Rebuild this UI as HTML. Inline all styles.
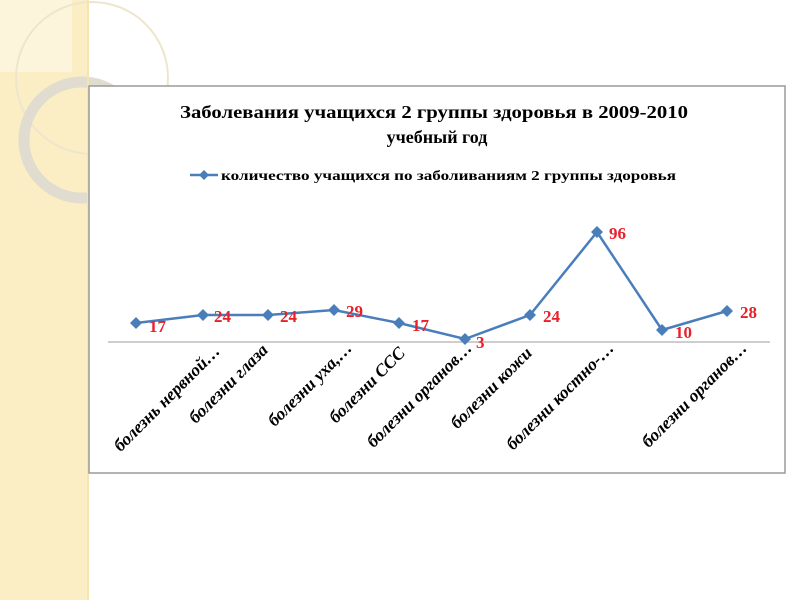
<!DOCTYPE html>
<html><head><meta charset="utf-8"><style>
body{margin:0;width:800px;height:600px;overflow:hidden;background:#fff}
</style></head><body>
<svg width="800" height="600" xmlns="http://www.w3.org/2000/svg" font-family="'Liberation Serif','Noto Serif CJK SC',serif">
<rect x="0" y="0" width="88" height="600" fill="#fbeec4"/>
<path d="M0 0 H72 A72 72 0 0 1 0 72 Z" fill="#fdf4dc"/>
<path d="M0 72 H72 V0" fill="#fdf4dc"/>
<circle cx="92" cy="78" r="76" fill="none" stroke="#eee6cc" stroke-width="2"/>
<circle cx="82" cy="140" r="58" fill="none" stroke="#e0dccf" stroke-width="11"/>
<line x1="88" y1="0" x2="88" y2="600" stroke="#f3e3b5" stroke-width="2"/>
<rect x="89" y="86" width="696" height="387" fill="#fff" stroke="#9a9a9a" stroke-width="1.5"/>
<text x="180" y="118" font-size="18" font-weight="bold" textLength="508" lengthAdjust="spacingAndGlyphs">Заболевания учащихся  2 группы здоровья в 2009-2010</text>
<text x="437" y="143" font-size="18" font-weight="bold" text-anchor="middle">учебный год</text>
<line x1="190" y1="175" x2="218" y2="175" stroke="#4a7ebb" stroke-width="2.5"/>
<path d="M204 170 L209 175 L204 180 L199 175Z" fill="#4a7ebb"/>
<text x="221" y="180" font-size="14" font-weight="bold" textLength="455" lengthAdjust="spacingAndGlyphs">количество учащихся по заболиваниям 2  группы здоровья</text>
<line x1="108" y1="342" x2="770" y2="342" stroke="#bdbdbd" stroke-width="1.5"/>
<polyline fill="none" stroke="#4a7ebb" stroke-width="2.5" points="136,323 203,315 268,315 334,310 399,323 465,339 530,315 597,232 662,330 727,311"/>
<g fill="#4a7ebb">
<path d="M136 317l6 6-6 6-6-6z"/><path d="M203 309l6 6-6 6-6-6z"/><path d="M268 309l6 6-6 6-6-6z"/><path d="M334 304l6 6-6 6-6-6z"/><path d="M399 317l6 6-6 6-6-6z"/><path d="M465 333l6 6-6 6-6-6z"/><path d="M530 309l6 6-6 6-6-6z"/><path d="M597 226l6 6-6 6-6-6z"/><path d="M662 324l6 6-6 6-6-6z"/><path d="M727 305l6 6-6 6-6-6z"/>
</g>
<g fill="#e8202a" font-size="17" font-weight="bold">
<text x="149" y="332">17</text><text x="214" y="322">24</text><text x="280" y="322">24</text><text x="346" y="317">29</text><text x="412" y="331">17</text><text x="476" y="348">3</text><text x="543" y="322">24</text><text x="609" y="239">96</text><text x="675" y="338">10</text><text x="740" y="318">28</text>
</g>
<g font-size="17.5" font-weight="bold" font-style="italic" text-anchor="end">
<text transform="translate(221,352) rotate(-45)">болезнь нервной…</text>
<text transform="translate(269,351) rotate(-45)">болезни глаза</text>
<text transform="translate(353,349) rotate(-45)">болезни уха,…</text>
<text transform="translate(406,354) rotate(-45)">болезни ССС</text>
<text transform="translate(473,349) rotate(-45)">болезни органов…</text>
<text transform="translate(533,354) rotate(-45)">болезни кожи</text>
<text transform="translate(615,349) rotate(-45)">болезни костно-…</text>
<text transform="translate(748,349) rotate(-45)">болезни органов…</text>
</g>
</svg>
</body></html>
